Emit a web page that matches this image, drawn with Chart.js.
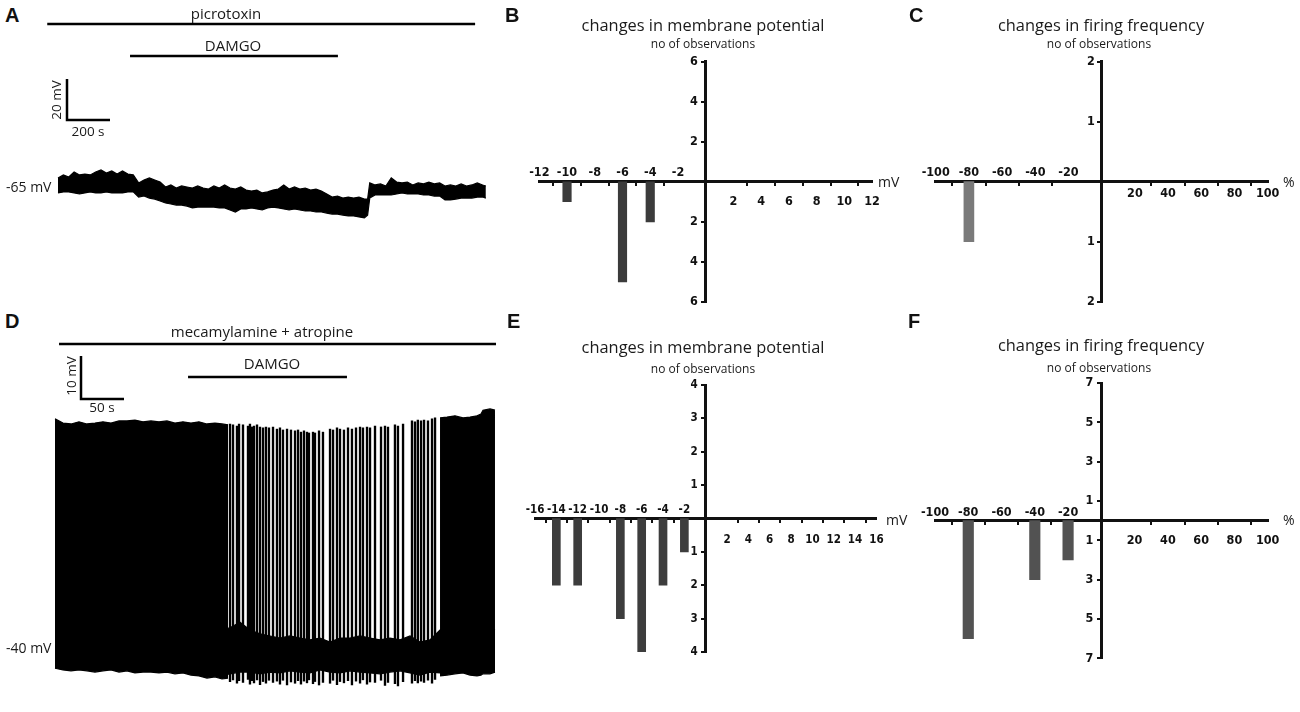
<!DOCTYPE html>
<html><head><meta charset="utf-8">
<script src="https://cdn.jsdelivr.net/npm/chart.js@4.4.1/dist/chart.umd.min.js"></script>
<style>
body{margin:0;background:#fff;width:1300px;height:712px;overflow:hidden;position:relative;font-family:'Open Sans',sans-serif;color:#1a1a1a;}
canvas{position:absolute;}
.t{position:absolute;white-space:nowrap;transform:translate(-50%,-50%);line-height:1;}
.l{position:absolute;white-space:nowrap;transform:translateY(-50%);line-height:1;}
.L{position:absolute;font:bold 20px 'Liberation Sans',Arial,sans-serif;transform:translateY(-50%);line-height:1;color:#111;}
.ti{font-size:16.4px;}
.su{font-size:12px;}
.dr{font-size:15px;}
.sc{font-size:13.5px;}
.r{transform:translate(-50%,-50%) rotate(-90deg);}
</style></head><body>

<canvas id="cA" width="460" height="240" style="left:40px;top:0px"></canvas>
<canvas id="cD" width="460" height="370" style="left:40px;top:330px"></canvas>
<canvas id="cB" width="400" height="320" style="left:500px;top:0px"></canvas>
<canvas id="cC" width="400" height="320" style="left:900px;top:0px"></canvas>
<canvas id="cE" width="400" height="340" style="left:500px;top:330px"></canvas>
<canvas id="cF" width="400" height="340" style="left:900px;top:330px"></canvas>

<div class="L" style="left:5px;top:15px">A</div>
<div class="t dr" style="left:226px;top:13px">picrotoxin</div>
<div class="t dr" style="left:233px;top:45px">DAMGO</div>
<div class="t sc r" style="left:57px;top:100px">20 mV</div>
<div class="t sc" style="left:88px;top:132px">200 s</div>
<div class="l" style="left:6px;top:187px;font-size:14px">-65 mV</div>

<div class="L" style="left:505px;top:15px">B</div>
<div class="t ti" style="left:703px;top:25px">changes in membrane potential</div>
<div class="t su" style="left:703px;top:44px">no of observations</div>
<div class="l" style="left:878px;top:182px;font-size:14px">mV</div>

<div class="L" style="left:909px;top:15px">C</div>
<div class="t ti" style="left:1101px;top:25px">changes in firing frequency</div>
<div class="t su" style="left:1099px;top:44px">no of observations</div>
<div class="l" style="left:1283px;top:182px;font-size:14px">%</div>

<div class="L" style="left:5px;top:321px">D</div>
<div class="t dr" style="left:262px;top:331px">mecamylamine + atropine</div>
<div class="t dr" style="left:272px;top:363px">DAMGO</div>
<div class="t sc r" style="left:72px;top:376px">10 mV</div>
<div class="t sc" style="left:102px;top:408px">50 s</div>
<div class="l" style="left:6px;top:648px;font-size:14px">-40 mV</div>

<div class="L" style="left:507px;top:321px">E</div>
<div class="t ti" style="left:703px;top:347px">changes in membrane potential</div>
<div class="t su" style="left:703px;top:369px">no of observations</div>
<div class="l" style="left:886px;top:520px;font-size:14px">mV</div>

<div class="L" style="left:908px;top:321px">F</div>
<div class="t ti" style="left:1101px;top:345px">changes in firing frequency</div>
<div class="t su" style="left:1099px;top:368px">no of observations</div>
<div class="l" style="left:1283px;top:520px;font-size:14px">%</div>

<script>
// ---------- Panel A: membrane potential trace (envelope, mV vs s) ----------
const A_time = [0,25,50,75,100,125,150,175,200,225,250,275,300,325,350,375,400,425,450,475,500,525,550,575,600,625,650,675,700,725,750,775,800,825,850,875,900,925,950,975,1000,1025,1050,1075,1100,1125,1150,1175,1200,1225,1250,1275,1300,1325,1350,1375,1400,1425,1440,1450,1475,1500,1525,1550,1575,1600,1625,1650,1675,1700,1725,1750,1775,1800,1825,1850,1875,1900,1925,1950,1975,1990];
const A_top = [-60.6,-59.1,-60.1,-57.7,-59.1,-58.7,-59.1,-57.7,-56.7,-58.2,
  -57.2,-58.7,-57.2,-58.7,-59.1,-63.0,-61.6,-60.6,-61.6,-62.6,
  -65.0,-64.0,-65.5,-64.5,-65.0,-65.5,-64.5,-65.5,-66.0,-64.5,
  -65.5,-64.0,-65.5,-66.0,-65.0,-66.5,-67.0,-66.5,-67.9,-67.4,
  -66.5,-66.0,-64.0,-66.0,-65.0,-66.0,-65.5,-66.5,-66.0,-67.0,
  -68.4,-69.9,-69.4,-70.4,-69.9,-70.4,-69.9,-70.9,
  -70.9,
  -63.0,-64.0,-63.5,-64.5,-60.6,-62.6,-63.0,-62.6,-64.0,-63.0,-63.5,-62.6,-63.5,-63.0,-64.5,-64.0,-64.5,-63.5,-64.5,-64.0,-63.0,-64.0,
  -64.5];
const A_bottom = [-67.9,-67.4,-67.4,-67.9,-68.4,-67.9,-67.4,-67.9,-67.9,-67.4,
  -67.9,-67.9,-67.9,-67.4,-67.4,-69.9,-69.4,-70.4,-70.9,-71.8,
  -72.8,-73.3,-73.8,-73.8,-74.3,-75.2,-74.8,-74.8,-74.8,-74.8,
  -75.2,-75.2,-76.2,-77.2,-75.7,-75.7,-75.2,-75.7,-76.2,-75.2,
  -74.8,-75.2,-75.7,-76.2,-75.7,-76.2,-76.7,-76.7,-77.2,-77.2,
  -77.7,-78.2,-78.2,-78.7,-79.1,-79.1,-79.6,-80.1,
  -78.7,
  -70.4,-68.9,-68.9,-68.9,-68.9,-68.4,-67.9,-68.4,-68.4,-68.4,-68.9,-68.9,-69.4,-69.4,-71.3,-71.3,-70.9,-70.4,-70.4,-70.4,-69.9,-69.9,
  -70.4];
const A_picrotoxin = [-50, 1940];   // application interval (s)
const A_damgo = [335, 1302];
const A_scale = {dt: 200, dv: 20};

// ---------- Panel D: firing trace ----------
const D_denseT1 = [0,9.3,18.6,27.9,37.2,46.5,55.8,65.1,74.4,83.7,93.0,102.3,111.6,120.9,130.2,139.5,148.8,158.1,167.4,176.7,186.0,194.2,201.2];
const D_denseTop1 = [13.3,12.3,12.1,12.6,12.1,12.3,12.6,12.3,12.8,12.8,13.0,12.6,12.8,12.6,12.8,12.3,12.6,12.3,12.6,12.1,12.3,12.1,11.9];
const D_denseBot1 = [-44.7,-45.1,-45.3,-45.1,-45.3,-45.6,-45.3,-45.1,-45.6,-45.3,-45.8,-45.6,-45.6,-45.8,-45.6,-46.0,-45.8,-46.3,-46.5,-47.0,-46.7,-47.2,-47.0];
const D_denseT2 = [447.7,455.8,465.1,474.4,482.6,490.7,495.3,497.7,505.8,511.6];
const D_denseTop2 = [13.5,13.7,14.0,13.5,13.7,14.0,14.4,15.3,15.6,15.3];
const D_denseBot2 = [-46.5,-46.3,-46.0,-45.8,-46.3,-46.5,-46.3,-46.0,-46.0,-45.6];
const D_baseT = [191.9,203.5,215.1,226.7,238.4,250.0,261.6,273.3,284.9,296.5,308.1,319.8,331.4,343.0,354.7,366.3,377.9,389.5,401.2,412.8,424.4,436.0,447.7,459.3,470.9,482.6,494.2,505.8,511.6];
const D_baseTop = [-35.8,-35.3,-34.0,-35.8,-36.7,-37.2,-37.7,-37.2,-37.7,-38.1,-37.7,-38.6,-37.7,-37.7,-37.2,-37.7,-38.1,-37.7,-38.1,-37.2,-38.6,-38.1,-35.8,-34.9,-34.0,-34.9,-35.8,-35.3,-35.8];
const D_baseBot = [-46.5,-46.0,-45.6,-45.6,-46.0,-45.6,-45.8,-45.3,-45.6,-45.8,-45.1,-45.6,-45.8,-45.3,-45.6,-45.8,-46.0,-45.6,-45.3,-45.8,-46.3,-45.6,-45.8,-45.3,-45.6,-45.8,-45.1,-45.6,-45.6];
const D_spikeT = [203.5,207.0,211.6,214.0,218.6,224.4,226.7,229.1,231.4,234.9,238.4,241.9,245.3,248.8,253.5,258.1,261.6,265.1,269.8,274.4,279.1,282.6,286.0,289.5,293.0,295.3,300.0,302.3,307.0,311.6,319.8,323.3,327.9,331.4,336.0,340.7,345.3,350.0,354.7,358.1,362.8,366.3,372.1,379.1,383.7,387.2,395.3,398.8,404.7,415.1,418.6,421.9,425.6,429.1,433.7,438.4,441.9];
const D_spikePeak = [12.1,11.9,11.6,12.1,11.9,11.6,12.1,11.4,11.6,11.9,
  11.4,11.2,11.4,11.2,11.4,10.9,11.2,10.7,10.9,10.7,
  10.5,10.7,10.2,10.5,10.2,10.0,10.2,10.0,10.5,10.2,
  10.9,10.7,11.2,10.9,10.7,11.2,10.9,11.2,11.4,11.2,
  11.4,11.2,11.6,11.4,11.6,11.4,11.9,11.6,12.1,12.8,
  12.6,13.0,12.8,13.0,12.8,13.3,13.5];
const D_spikeTrough = [-47.8,-47.4,-48.2,-47.6,-48.0,-47.3,-48.4,-47.6,-48.1,-47.4,
  -48.5,-47.8,-48.2,-47.5,-48.0,-47.7,-48.4,-47.5,-48.6,-47.9,
  -48.2,-47.6,-48.4,-47.7,-48.1,-47.4,-48.3,-47.8,-48.6,-48.0,
  -48.2,-47.5,-48.5,-47.8,-48.1,-47.6,-48.6,-47.7,-48.2,-47.4,
  -48.4,-47.9,-48.0,-47.5,-48.7,-48.0,-48.3,-48.8,-47.8,-48.2,
  -47.6,-48.1,-47.7,-48.0,-47.5,-48.2,-47.3];
const D_mecAtr = [4.7, 512.8];
const D_damgo = [154.7, 339.5];
const D_scale = {dt: 50, dv: 10};

// ---------- Histograms ----------
const B_bins = [-10, -6, -4];
const B_counts = [1, 5, 2];
const B_xTicks = [-12,-10,-8,-6,-4,-2,2,4,6,8,10,12];
const B_yTicks = [2,4,6];
const C_bins = [-80];
const C_counts = [1];
const C_xTicks = [-100,-80,-60,-40,-20,20,40,60,80,100];
const C_yTicks = [1,2];
const E_bins = [-14, -12, -8, -6, -4, -2];
const E_counts = [2, 2, 3, 4, 2, 1];
const E_xTicks = [-16,-14,-12,-10,-8,-6,-4,-2,2,4,6,8,10,12,14,16];
const E_yTicks = [1,2,3,4];
const F_bins = [-80, -40, -20];
const F_counts = [6, 3, 2];
const F_xTicks = [-100,-80,-60,-40,-20,20,40,60,80,100];
const F_yTicks = [1,3,5,7];

const pts = (xs, ys) => xs.map((x, i) => ({x, y: ys[i]}));

function traceAnno(cfg) {
  return {
    id: 'traceAnno',
    afterDatasetsDraw(chart) {
      const {ctx, scales: {x, y}} = chart;
      ctx.save();
      ctx.strokeStyle = '#000';
      ctx.lineWidth = 2.5;
      ctx.lineJoin = 'miter';
      cfg.bars.forEach(b => {
        ctx.beginPath();
        ctx.moveTo(x.getPixelForValue(b.range[0]), b.py);
        ctx.lineTo(x.getPixelForValue(b.range[1]), b.py);
        ctx.stroke();
      });
      const w = x.getPixelForValue(cfg.scale.dt) - x.getPixelForValue(0);
      const h = y.getPixelForValue(0) - y.getPixelForValue(cfg.scale.dv);
      ctx.beginPath();
      ctx.moveTo(cfg.sx, cfg.sy - h);
      ctx.lineTo(cfg.sx, cfg.sy);
      ctx.lineTo(cfg.sx + w, cfg.sy);
      ctx.stroke();
      ctx.restore();
    }
  };
}

const baseOpts = (xmin, xmax, ymin, ymax) => ({
  responsive: false, animation: false, events: [],
  layout: {padding: 0},
  elements: {point: {radius: 0}, line: {tension: 0}},
  scales: {
    x: {type: 'linear', min: xmin, max: xmax, display: false, offset: false},
    y: {type: 'linear', min: ymin, max: ymax, display: false}
  },
  plugins: {legend: {display: false}, tooltip: {enabled: false}}
});

// Panel A
new Chart(document.getElementById('cA'), {
  type: 'line',
  data: {datasets: [
    {data: pts(A_time, A_top), borderColor: '#000', backgroundColor: '#000', borderWidth: 1.2, fill: '+1'},
    {data: pts(A_time, A_bottom), borderColor: '#000', borderWidth: 1.2, fill: false}
  ]},
  options: baseOpts(-83.7, 2055.8, -90.85, 26.22),
  plugins: [traceAnno({bars: [{range: A_picrotoxin, py: 24}, {range: A_damgo, py: 56}], scale: A_scale, sx: 27, sy: 120})]
});

// Panel D
new Chart(document.getElementById('cD'), {
  type: 'line',
  data: {datasets: [
    {data: pts(D_baseT, D_baseTop), borderColor: '#000', backgroundColor: '#000', borderWidth: 1.2, fill: '+1'},
    {data: pts(D_baseT, D_baseBot), borderColor: '#000', borderWidth: 1.2, fill: false},
    {data: pts(D_denseT1, D_denseTop1), borderColor: '#000', backgroundColor: '#000', borderWidth: 1.2, fill: '+1'},
    {data: pts(D_denseT1, D_denseBot1), borderColor: '#000', borderWidth: 1.2, fill: false},
    {data: pts(D_denseT2, D_denseTop2), borderColor: '#000', backgroundColor: '#000', borderWidth: 1.2, fill: '+1'},
    {data: pts(D_denseT2, D_denseBot2), borderColor: '#000', borderWidth: 1.2, fill: false},
    {type: 'bar', data: D_spikeT.map((t, i) => ({x: t, y: [D_spikeTrough[i], D_spikePeak[i]]})),
     backgroundColor: '#000', borderWidth: 0, barThickness: 1.7}
  ]},
  options: baseOpts(-17.44, 517.44, -52.09, 33.95),
  plugins: [traceAnno({bars: [{range: D_mecAtr, py: 14}, {range: D_damgo, py: 47}], scale: D_scale, sx: 41, sy: 69})]
});

// cross-shaped histogram axes
function crossLabels(o) {
  return {
    id: 'crossLabels',
    afterDraw(chart) {
      const {ctx, scales: {x, y}} = chart;
      const x0 = x.getPixelForValue(0), y0 = y.getPixelForValue(0);
      ctx.save();
      ctx.fillStyle = '#111';
      ctx.font = 'bold ' + o.size + 'px "Liberation Sans Narrow", "DejaVu Sans Condensed", "Open Sans", sans-serif';
      ctx.textAlign = 'center';
      ctx.textBaseline = 'middle';
      x.ticks.forEach(t => {
        if (t.value === 0) return;
        ctx.fillText(String(t.value), x.getPixelForValue(t.value), t.value < 0 ? y0 - o.neg : y0 + o.pos);
      });
      ctx.textAlign = 'right';
      y.ticks.forEach(t => {
        if (t.value === 0) return;
        ctx.fillText(String(Math.abs(t.value)), x0 - o.gap, y.getPixelForValue(t.value));
      });
      ctx.restore();
    }
  };
}

function hist(id, bins, counts, xr, yr, xTicks, yTicks, color, barW, pad, lbl) {
  const axisCommon = {
    border: {display: true, color: '#111', width: 3},
    grid: {display: true, drawOnChartArea: false, drawTicks: true, tickLength: 3, lineWidth: 2, color: '#111'},
    ticks: {display: false}
  };
  return new Chart(document.getElementById(id), {
    type: 'bar',
    data: {datasets: [{data: bins.map((b, i) => ({x: b, y: counts[i]})), backgroundColor: color, borderWidth: 0, barThickness: barW}]},
    options: {
      responsive: false, animation: false, events: [],
      layout: {padding: pad},
      scales: {
        x: Object.assign({type: 'linear', min: -xr, max: xr, offset: false, position: {y: 0},
          afterBuildTicks: s => { s.ticks = xTicks.map(v => ({value: v})); },
          afterFit: s => { s.height = 0; }}, axisCommon),
        y: Object.assign({type: 'linear', min: -yr, max: yr, reverse: true, position: {x: 0},
          afterBuildTicks: s => { s.ticks = yTicks.flatMap(v => [{value: -v}, {value: v}]); },
          afterFit: s => { s.width = 0; }}, axisCommon)
      },
      plugins: {legend: {display: false}, tooltip: {enabled: false}}
    },
    plugins: [crossLabels(lbl)]
  });
}

hist('cB', B_bins, B_counts, 12, 6, B_xTicks, B_yTicks, '#3b3b3b', 8.5,
  {left: 39.3, right: 27.9, top: 61.5, bottom: 18}, {neg: 9, pos: 19.5, gap: 8, size: 12.5});
hist('cC', C_bins, C_counts, 100, 2, C_xTicks, C_yTicks, '#7a7a7a', 10,
  {left: 35.7, right: 32.3, top: 61.7, bottom: 18.3}, {neg: 9, pos: 12.5, gap: 7, size: 12.5});
hist('cE', E_bins, E_counts, 16, 4, E_xTicks, E_yTicks, '#3d3d3d', 8,
  {left: 35, right: 23.6, top: 55, bottom: 18}, {neg: 8.5, pos: 22, gap: 8, size: 11.5});
hist('cF', F_bins, F_counts, 100, 7, F_xTicks, F_yTicks, '#525252', 10.5,
  {left: 35, right: 32.3, top: 53, bottom: 11.7}, {neg: 8.3, pos: 20, gap: 8, size: 12.5});
</script>
</body></html>
